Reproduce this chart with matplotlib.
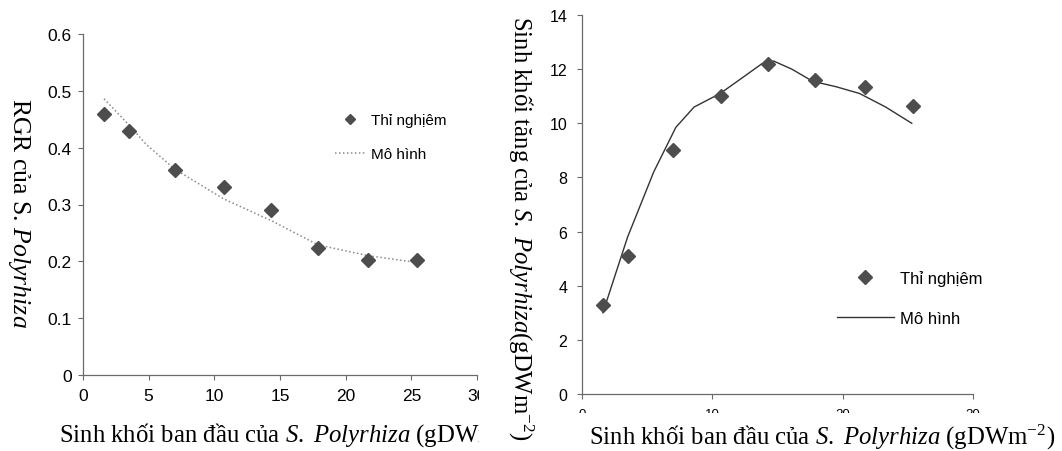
import matplotlib
matplotlib.use("Agg")
import matplotlib.pyplot as plt
from matplotlib.transforms import Bbox, TransformedBbox

# -----------------------------
# Data
# -----------------------------
x_obs = [1.6, 3.5, 7.0, 10.7, 14.3, 17.9, 21.7, 25.4]

# left panel: RGR
rgr_obs = [0.46, 0.43, 0.36, 0.33, 0.29, 0.223, 0.202, 0.202]
rgr_model_x = [1.6, 3.5, 4.8, 7.0, 10.7, 14.3, 17.9, 21.7, 25.4]
rgr_model = [0.486, 0.44, 0.406, 0.362, 0.31, 0.272, 0.229, 0.21, 0.198]

# right panel: biomass increase
growth_obs = [3.3, 5.1, 9.0, 11.0, 12.2, 11.6, 11.35, 10.65]
growth_model_x = [1.6, 3.5, 5.5, 7.2, 8.6, 10.6, 12.5, 13.8, 14.7,
                  16.1, 17.7, 19.5, 21.3, 23.3, 25.3]
growth_model = [3.0, 5.8, 8.2, 9.85, 10.6, 11.1, 11.75, 12.2, 12.3,
                12.0, 11.55, 11.35, 11.1, 10.6, 10.0]

left_xticks = [0, 5, 10, 15, 20, 25, 30]
left_yticks = [0, 0.1, 0.2, 0.3, 0.4, 0.5, 0.6]
right_xticks = [0, 10, 20, 30]
right_yticks = [0, 2, 4, 6, 8, 10, 12, 14]

lbl_obs = "Thỉ nghịêm"
lbl_model = "Mô hình"

# -----------------------------
# Style
# -----------------------------
plt.rcParams["font.family"] = ["Liberation Sans", "DejaVu Sans"]
plt.rcParams["mathtext.fontset"] = "custom"
plt.rcParams["mathtext.rm"] = "Liberation Serif"
plt.rcParams["mathtext.it"] = "Liberation Serif:italic"
plt.rcParams["mathtext.bf"] = "Liberation Serif:bold"

W, H = 1062, 452
fig = plt.figure(figsize=(W / 100, H / 100), dpi=100)
fig.patch.set_facecolor("white")

MARK = "#4d4d4d"
AXC = "#6a6a6a"
SERIF = ["Liberation Serif", "DejaVu Serif"]
LBL_SIZE = 17.8


def px_axes(x0, x1, ytop, ybot):
    return fig.add_axes([x0 / W, 1 - ybot / H, (x1 - x0) / W, (ybot - ytop) / H])


def style(ax):
    for s in ("top", "right"):
        ax.spines[s].set_visible(False)
    for s in ("left", "bottom"):
        ax.spines[s].set_color(AXC)
        ax.spines[s].set_linewidth(0.9)
    ax.tick_params(direction="out", length=3.5, width=0.8, color=AXC)


def clip_to(artist, x0, x1, ytop, ybot):
    box = Bbox.from_extents(x0 / W, 1 - ybot / H, x1 / W, 1 - ytop / H)
    artist.set_clip_box(TransformedBbox(box, fig.transFigure))
    artist.set_clip_on(True)


# -----------------------------
# Left panel: RGR
# -----------------------------
ax1 = px_axes(83, 477, 35, 376)
style(ax1)
ax1.plot(rgr_model_x, rgr_model, linestyle=(0, (1, 1.6)), color="#8a8a8a",
         linewidth=1.1, label=lbl_model)
ax1.plot(x_obs, rgr_obs, linestyle="none", marker="D", markersize=6.8,
         color=MARK, label=lbl_obs)
ax1.set_xlim(0, 30)
ax1.set_ylim(0, 0.6)
ax1.set_xticks(left_xticks)
ax1.set_yticks(left_yticks)
ax1.set_yticklabels(["0" if v == 0 else f"{v:.1f}" for v in left_yticks])
ax1.tick_params(axis="both", labelsize=12.5, pad=4.5)
ax1.tick_params(axis="x", pad=6)
for t in ax1.xaxis.get_major_ticks():
    clip_to(t.label1, 0, 479, 0, H)

h, l = ax1.get_legend_handles_labels()
ax1.legend(h[::-1], l[::-1], loc="upper left", bbox_to_anchor=(335 / W, 1 - 114 / H),
           bbox_transform=fig.transFigure, frameon=False, fontsize=11,
           handlelength=2.0, handletextpad=0.35, labelspacing=1.3,
           borderpad=0, borderaxespad=0, markerscale=0.75)

fig.text(19 / W, 1 - 213 / H, r"RGR của S. $\mathit{Polyrhiza}$", rotation=270,
         ha="center", va="center", fontsize=18.5, family=SERIF)
xl1 = fig.text(59 / W, 1 - 435 / H,
               r"Sinh khối ban đầu của $\mathit{S.\ Polyrhiza}$ (gDWm$^{-2}$)",
               ha="left", va="center", fontsize=LBL_SIZE, family=SERIF)
clip_to(xl1, 0, 479, 0, H)

# -----------------------------
# Right panel: biomass increase
# -----------------------------
ax2 = px_axes(582, 973, 16, 395)
style(ax2)
ax2.plot(growth_model_x, growth_model, linestyle="-", color="#333333",
         linewidth=1.0, label=lbl_model)
ax2.plot(x_obs, growth_obs, linestyle="none", marker="D", markersize=7.2,
         color=MARK, label=lbl_obs)
ax2.set_xlim(0, 30)
ax2.set_ylim(0, 14)
ax2.set_xticks(right_xticks)
ax2.set_yticks(right_yticks)
ax2.tick_params(axis="y", labelsize=11.5, pad=7)
# x tick labels are cut off in the scan: only their tops show
ax2.tick_params(axis="x", labelsize=9.5, pad=6.5)
for t in ax2.xaxis.get_major_ticks():
    clip_to(t.label1, 0, W, 0, 414)

h, l = ax2.get_legend_handles_labels()
ax2.legend(h[::-1], l[::-1], loc="upper left", bbox_to_anchor=(837 / W, 1 - 271 / H),
           bbox_transform=fig.transFigure, frameon=False, fontsize=12,
           handlelength=3.4, handletextpad=0.35, labelspacing=1.5,
           borderpad=0, borderaxespad=0)

fig.text(521 / W, 1 - 228 / H,
         r"Sinh khối tăng của $\mathit{S.\ Polyrhiza}$(gDWm$^{-2}$)", rotation=270,
         ha="center", va="center", fontsize=LBL_SIZE, family=SERIF)
fig.text(589 / W, 1 - 437 / H,
         r"Sinh khối ban đầu của $\mathit{S.\ Polyrhiza}$ (gDWm$^{-2}$)",
         ha="left", va="center", fontsize=LBL_SIZE, family=SERIF)

fig.savefig("out.png", dpi=100)
